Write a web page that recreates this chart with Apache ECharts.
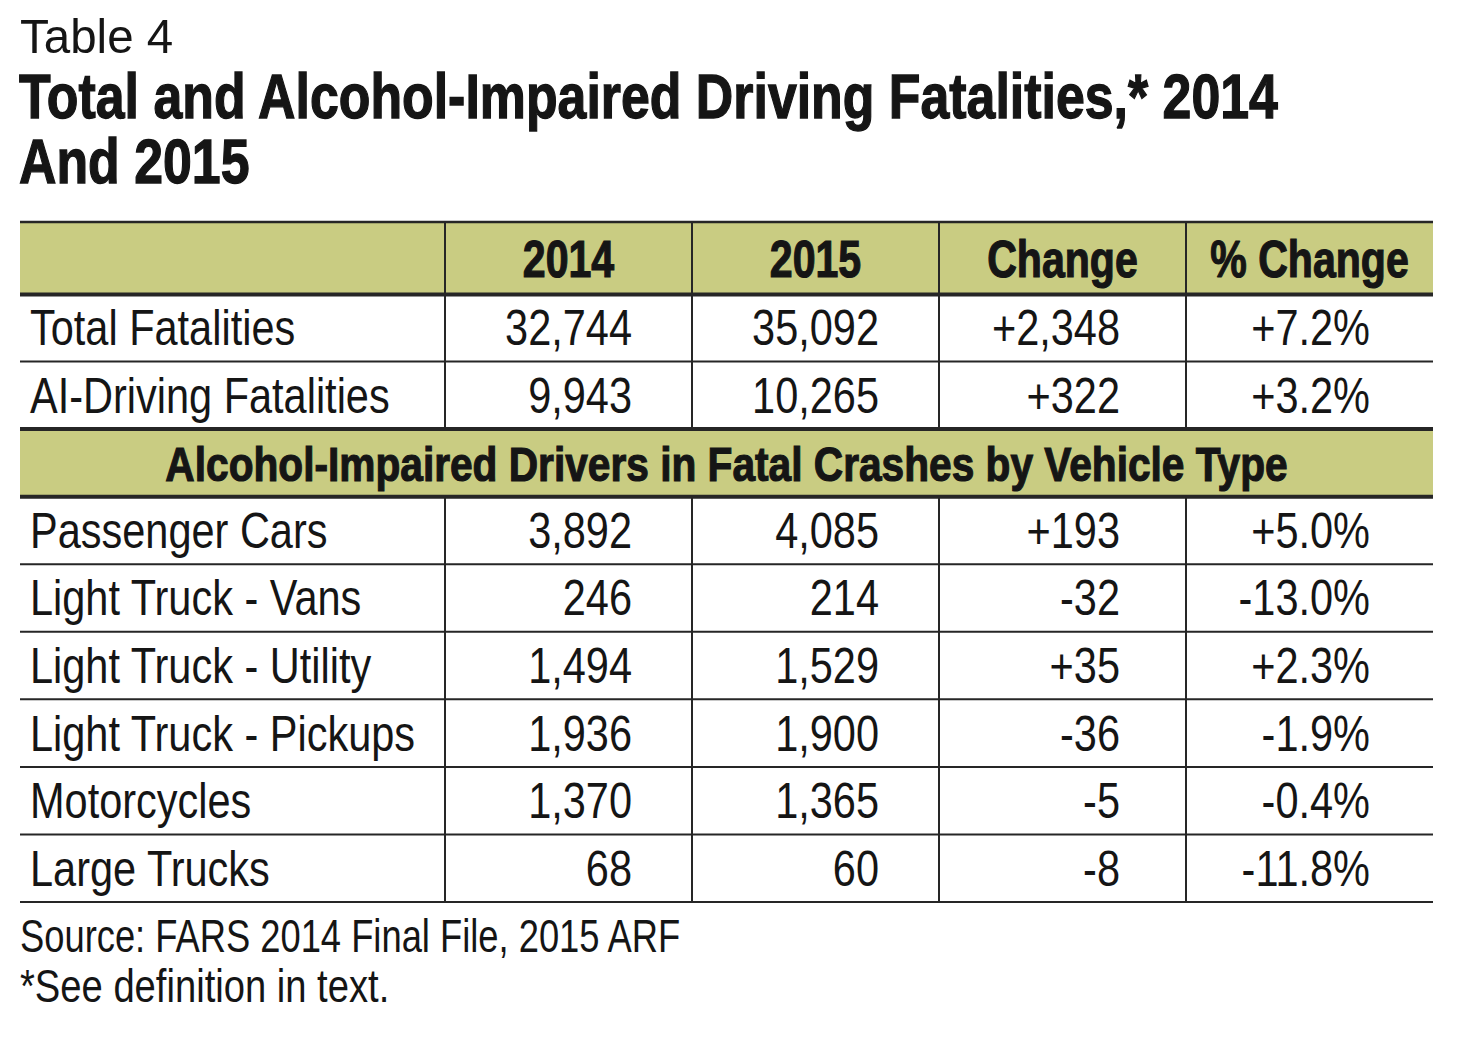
<!DOCTYPE html>
<html><head><meta charset="utf-8">
<script src="https://cdn.jsdelivr.net/npm/echarts@6/dist/echarts.min.js"></script>
<style>html,body{margin:0;padding:0;background:#fff}#c{width:1458px;height:1046px}</style>
</head><body><div id="c"></div>
<script>
// ---------- data ----------
const tableNumber = 'Table 4';
const titleLines = ['Total and Alcohol-Impaired Driving Fatalities,* 2014', 'And 2015'];
const columnHeaders = ['', '2014', '2015', 'Change', '% Change'];
const sectionHeader = 'Alcohol-Impaired Drivers in Fatal Crashes by Vehicle Type';
const rowLabels = ['Total Fatalities', 'AI-Driving Fatalities', 'Passenger Cars', 'Light Truck - Vans',
  'Light Truck - Utility', 'Light Truck - Pickups', 'Motorcycles', 'Large Trucks'];
const values2014 = [32744, 9943, 3892, 246, 1494, 1936, 1370, 68];
const values2015 = [35092, 10265, 4085, 214, 1529, 1900, 1365, 60];
const changeValues = [2348, 322, 193, -32, 35, -36, -5, -8];
const pctChangeValues = [7.2, 3.2, 5.0, -13.0, 2.3, -1.9, -0.4, -11.8];
const sectionBeforeRow = 2;
const footnotes = ['Source: FARS 2014 Final File, 2015 ARF', '*See definition in text.'];

// ---------- layout / style ----------
const COL_W = [425, 247, 247, 247, 247];
const EDGES = COL_W.reduce((a, w) => (a.push(a[a.length - 1] + w), a), [0]);
const RIGHT_PAD = [0, 60, 60, 66, 63];
const HEADER_H = 72;
const FILL = '#c9cc82';
const INK = '#151515';
const LINE = '#262626';
const FAM = '"Liberation Sans", Arial, sans-serif';
const REG = { size: 50, sx: 0.83, weight: 'normal' };
const BOLD = { size: 52, sx: 0.79, weight: 'bold' };
const SEC = { size: 49, sx: 0.83, weight: 'bold' };

const fmtInt = (v, signed) => (signed && v > 0 ? '+' : '') + v.toLocaleString('en-US');
const fmtPct = v => (v > 0 ? '+' : '') + v.toFixed(1) + '%';

const categories = [];
const rowMap = [];
rowLabels.forEach((l, i) => {
  if (i === sectionBeforeRow) { categories.push(sectionHeader); rowMap.push(-1); }
  categories.push(l); rowMap.push(i);
});

function txt(text, x, y, f, align) {
  const style = { text: text, x: 0, y: 0, fill: INK, align: align, verticalAlign: 'middle',
    font: f.weight + ' ' + f.size + 'px ' + FAM };
  if (f.weight === 'bold') { style.stroke = INK; style.lineWidth = 1.2; }
  return { type: 'text', x: x, y: y, scaleX: f.sx, scaleY: 1, style: style };
}
function ln(x1, y1, x2, y2, w) {
  return { type: 'line', shape: { x1, y1, x2, y2 }, style: { stroke: LINE, lineWidth: w } };
}

function renderBody(params, api) {
  const r = api.value(1);
  const yc = api.coord([0, r])[1];
  const h = api.size([0, 1])[1];
  const top = yc - h / 2, bot = yc + h / 2;
  const X = i => api.coord([EDGES[i], r])[0];
  const children = [];
  const di = rowMap[r];
  if (di < 0) {
    children.push({ type: 'rect', shape: { x: X(0), y: top, width: X(5) - X(0), height: h }, style: { fill: FILL } });
    children.push(txt(sectionHeader, (X(0) + X(5)) / 2, yc + 1, SEC, 'center'));
    children.push(ln(X(0), top, X(5), top, 4));
    children.push(ln(X(0), bot, X(5), bot, 4));
  } else {
    children.push(txt(rowLabels[di], X(0) + 10, yc, REG, 'left'));
    const cells = [fmtInt(values2014[di], false), fmtInt(values2015[di], false),
      fmtInt(changeValues[di], true), fmtPct(pctChangeValues[di])];
    cells.forEach((c, j) => children.push(txt(c, X(j + 2) - RIGHT_PAD[j + 1], yc, REG, 'right')));
    for (let k = 1; k <= 4; k++) children.push(ln(X(k), top, X(k), bot, 2));
    if (rowMap[r + 1] !== -1) children.push(ln(X(0), bot, X(5), bot, 2));
  }
  return { type: 'group', children: children };
}

function renderHeader(params, api) {
  const cs = params.coordSys;
  const X = i => api.coord([EDGES[i], 0])[0];
  const bot = cs.y, top = cs.y - HEADER_H;
  const children = [
    { type: 'rect', shape: { x: X(0), y: top, width: X(5) - X(0), height: HEADER_H }, style: { fill: FILL } }
  ];
  for (let k = 1; k <= 4; k++) children.push(ln(X(k), top, X(k), bot, 2));
  columnHeaders.forEach((c, i) => {
    if (c) children.push(txt(c, (X(i) + X(i + 1)) / 2, (top + bot) / 2 + 1, BOLD, 'center'));
  });
  children.push(ln(X(0), top, X(5), top, 2.5));
  children.push(ln(X(0), bot + 0.5, X(5), bot + 0.5, 4));
  return { type: 'group', children: children };
}

const boldTitle = { fill: INK, stroke: INK, lineWidth: 1.3, verticalAlign: 'middle', font: 'bold 63px ' + FAM };
const chart = echarts.init(document.getElementById('c'), null, { renderer: 'svg' });
chart.setOption({
  animation: false,
  backgroundColor: '#fff',
  grid: { left: 20, right: 25, top: 294, bottom: 144 },
  xAxis: { type: 'value', min: 0, max: EDGES[EDGES.length - 1], show: false },
  yAxis: { type: 'category', data: categories, inverse: true, show: false },
  graphic: [
    { type: 'text', x: 20, y: 36, scaleX: 0.97, style: { text: tableNumber, fill: INK, verticalAlign: 'middle', font: 'normal 49px ' + FAM } },
    { type: 'text', x: 19, y: 96, scaleX: 0.823, style: Object.assign({ text: titleLines[0] }, boldTitle) },
    { type: 'text', x: 19, y: 161, scaleX: 0.823, style: Object.assign({ text: titleLines[1] }, boldTitle) },
    { type: 'text', x: 20, y: 936, scaleX: 0.79, style: { text: footnotes[0], fill: INK, verticalAlign: 'middle', font: 'normal 46px ' + FAM } },
    { type: 'text', x: 20, y: 986, scaleX: 0.83, style: { text: footnotes[1], fill: INK, verticalAlign: 'middle', font: 'normal 46px ' + FAM } }
  ],
  series: [
    { type: 'custom', name: 'body', renderItem: renderBody, encode: { x: 0, y: 1 },
      data: categories.map((c, i) => [0, i]), silent: true, clip: false },
    { type: 'custom', name: 'header', renderItem: renderHeader, encode: { x: 0, y: 1 },
      data: [[0, 0]], silent: true, clip: false, z: 5 }
  ]
});
</script></body></html>
